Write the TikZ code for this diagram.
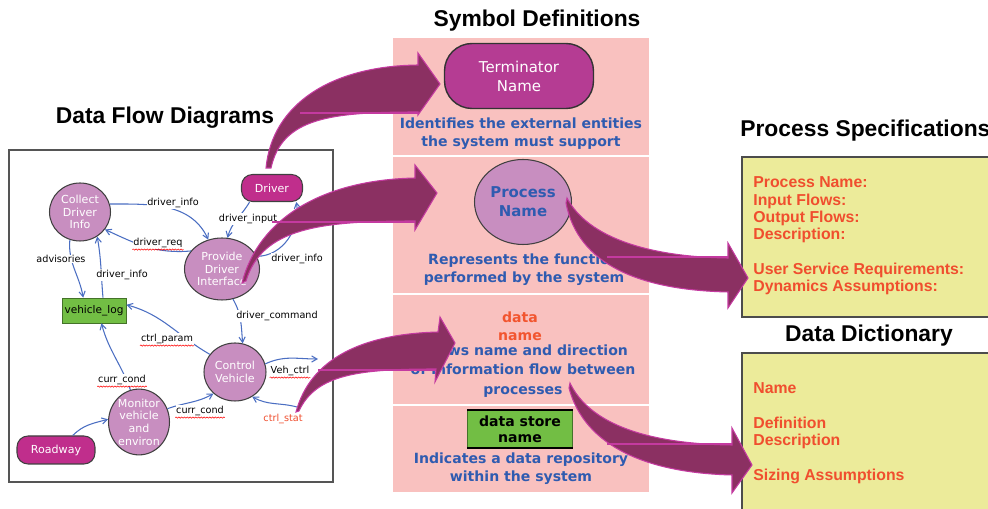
\documentclass[tikz,border=0pt]{standalone}
\usepackage{fontspec}
\setmainfont{DejaVu Sans}
\newfontfamily\lib{Liberation Sans}
\usetikzlibrary{arrows.meta,decorations.pathmorphing,shapes.geometric}
\definecolor{pinkbg}{HTML}{F9C1BF}
\definecolor{yellowbg}{HTML}{ECEB9A}
\definecolor{termfill}{HTML}{B53C93}
\definecolor{drvfill}{HTML}{C02E8C}
\definecolor{procfill}{HTML}{C88EC0}
\definecolor{storegreen}{HTML}{72BE44}
\definecolor{bluetext}{HTML}{2F5BB0}
\definecolor{namered}{HTML}{F2552F}
\definecolor{specred}{HTML}{F04E2E}
\definecolor{flowblue}{HTML}{4A6EC2}
\definecolor{arrowfill}{HTML}{8B3062}
\definecolor{arrowedge}{HTML}{C43AA0}
\definecolor{framegray}{HTML}{555555}
\begin{document}
\begin{tikzpicture}[x=0.02cm,y=-0.02cm,
  title/.style={font=\lib\bfseries\fontsize{13}{15}\selectfont},
  desc/.style={text=bluetext,font=\bfseries\fontsize{8}{10.2}\selectfont,align=center},
  spec/.style={text=specred,font=\lib\bfseries\fontsize{9}{9.9}\selectfont,align=left,anchor=west,inner sep=0},
  proc/.style={ellipse,draw=black!75,line width=0.6pt,fill=procfill,inner sep=0,align=center},
  dproc/.style={proc,text=white,font=\fontsize{6.3}{7.2}\selectfont},
  dterm/.style={draw=black!75,line width=0.6pt,fill=drvfill,rounded corners=0.22cm,text=white,font=\fontsize{6.3}{7.2}\selectfont,inner sep=0},
  flow/.style={draw=flowblue,line width=0.6pt,-{Straight Barb[angle=60:3.5pt]}},
  flbl/.style={font=\fontsize{5.5}{6}\selectfont,fill=white,inner sep=0.4pt},
  squig/.style={draw=red,line width=0.3pt,decorate,decoration={snake,amplitude=0.35pt,segment length=1.6pt}},
  bigarrow/.style={fill=arrowfill,draw=arrowedge,line width=0.6pt,line join=miter},
  foldline/.style={draw=arrowedge,line width=0.6pt}]
\clip (0,0) rectangle (988,509);
\fill[white] (0,0) rectangle (988,509);

% ---------- titles ----------
\node[title] (tdfd) at (165,118) {Data Flow Diagrams};
\node[title] (tsym) at (537,21) {Symbol Definitions};
\node[title,anchor=west,inner sep=0] (tps) at (740,131) {Process Specifications};
\node[title] (tdd) at (869,336) {Data Dictionary};

% ---------- symbol panel ----------
\fill[pinkbg] (393,38) rectangle (649,492);
\draw[white,line width=1.1pt] (393,156) -- (649,156) (393,294) -- (649,294) (393,405) -- (649,405);

\node[draw=black!80,line width=0.8pt,fill=termfill,rounded corners=0.55cm,minimum width=2.98cm,minimum height=1.3cm,
      text=white,align=center,font=\fontsize{8.5}{10.8}\selectfont] (termsym) at (519,76) {Terminator\\Name};
\node[desc] (d1) at (521,134) {Identifies the external entities\\the system must support};

\node[proc,minimum width=1.94cm,minimum height=1.7cm,text=bluetext,font=\bfseries\fontsize{8.5}{10.8}\selectfont] (procsym) at (523,202) {Process\\Name};
\node[desc] (d2) at (524,270) {Represents the function\\performed by the system};

\node[desc,text=namered] (dname) at (520,326) {data\\name};
\node[desc,font=\bfseries\fontsize{8}{11}\selectfont] (d3) at (523,371) {Shows name and direction\\of information flow between\\processes};

\node[fill=storegreen,draw=storegreen!60!black,line width=0.3pt,minimum width=2.1cm,minimum height=0.74cm,inner sep=0,align=center,
      font=\bfseries\fontsize{8}{9}\selectfont] (storesym) at (520,429) {data store\\name};
\draw[line width=1pt] (storesym.north west) -- (storesym.north east) (storesym.south west) -- (storesym.south east);
\node[desc] (d4) at (521,469) {Indicates a data repository\\within the system};

% ---------- right boxes ----------
\draw[fill=yellowbg,draw=black!70,line width=1pt] (742,157) rectangle (1010,317);
\node[spec] (spectext) at (753,236) {Process Name:\\Input Flows:\\Output Flows:\\Description:\\[9.9pt]User Service Requirements:\\Dynamics Assumptions:};
\draw[fill=yellowbg,draw=black!70,line width=1pt] (742,353) rectangle (1010,530);
\node[spec] (ddtext) at (753,433) {Name\\[9.9pt]Definition\\Description\\[9.9pt]Sizing Assumptions};

% ---------- DFD ----------
\draw[framegray,line width=0.9pt] (9,150) rectangle (333,482);

\node[dproc,minimum width=1.22cm,minimum height=1.16cm] (collect) at (80,212) {Collect\\Driver\\Info};
\node[dterm,minimum width=1.22cm,minimum height=0.54cm] (driver) at (272,188) {Driver};
\node[dproc,minimum width=1.5cm,minimum height=1.24cm] (provide) at (222,269) {Provide\\Driver\\Interface};
\node[fill=storegreen,draw=storegreen!60!black,line width=0.4pt,minimum width=1.28cm,minimum height=0.5cm,inner sep=0,
      font=\fontsize{6}{7}\selectfont] (vlog) at (94,310.5) {vehicle\_log};
\node[dproc,minimum width=1.24cm,minimum height=1.16cm] (control) at (235,372) {Control\\Vehicle};
\node[dproc,minimum width=1.22cm,minimum height=1.2cm] (monitor) at (139,422) {Monitor\\vehicle\\and\\environ};
\node[dterm,minimum width=1.56cm,minimum height=0.56cm] (roadway) at (56,450) {Roadway};
\coordinate (vout) at (318,359);
\coordinate (sin) at (297,407);

\draw[flow] (collect.15) to[out=0,in=115] (provide.115);
\draw[flow] (provide.150) to[out=185,in=-25] (collect.-35);
\draw[flow] (driver.212) to[out=240,in=75] (provide.80);
\draw[flow] (provide.20) to[out=0,in=-80] (driver.-30);
\draw[flow] (collect.250) to[out=265,in=100] (vlog.130);
\draw[flow] (vlog.55) to[out=95,in=-80] (collect.-55);
\draw[flow] (provide.-70) to[out=-60,in=95] (control.75);
\draw[flow] (control.145) to[out=150,in=-15] (vlog.10);
\draw[flow] (monitor.105) to[out=110,in=-75] (vlog.-60);
\draw[flow] (monitor.25) to[out=20,in=-150] (control.-135);
\draw[flow] (roadway.41) to[out=45,in=195] (monitor.175);
\draw[flow] (control.15) to[out=25,in=180] (vout);
\draw[flow] (sin) to[out=165,in=-30] (control.-55);

\node[flbl] (l1) at (173,203) {driver\_info};
\node[flbl] (l2) at (158,243) {driver\_req};
\node[flbl] (l3) at (248,219) {driver\_input};
\node[flbl] (l4) at (297,259) {driver\_info};
\node[flbl] (l5) at (61,259) {advisories};
\node[flbl] (l6) at (122,275) {driver\_info};
\node[flbl] (l7) at (277,316) {driver\_command};
\node[flbl] (l8) at (167,339) {ctrl\_param};
\node[flbl] (l9) at (122,380) {curr\_cond};
\node[flbl] (l10) at (200,411) {curr\_cond};
\node[flbl] (l11) at (290,371) {Veh\_ctrl};
\node[flbl,text=specred,fill=none] (l12) at (283,419) {ctrl\_stat};
\foreach \l in {l2,l8,l9,l10,l11}{
  \draw[squig] ([yshift=-0.4pt]\l.south west) -- ([yshift=-0.4pt]\l.south east);
}

% ---------- big curved arrows ----------
\draw[bigarrow] (266,168) .. controls (272,105) and (330,66) .. (418,65)
   -- (418,53) -- (440,84) -- (418,115) -- (418,112)
   .. controls (330,112) and (282,118) .. (271,168) -- cycle;
\draw[foldline] (300,113) -- (418,113);

\draw[bigarrow] (242,283) .. controls (258,220) and (320,180) .. (415,178)
   -- (415,165) -- (437,193) -- (415,230) -- (415,221)
   .. controls (320,221) and (262,228) .. (246,281) -- cycle;
\draw[foldline] (272,222) -- (415,222);

\draw[bigarrow] (296,412) .. controls (310,360) and (360,334) .. (438,332)
   -- (440,317) -- (455,343) -- (435,382) -- (436,369)
   .. controls (360,369) and (316,374) .. (299,411) -- cycle;
\draw[foldline] (318,370) -- (436,370);

\draw[bigarrow] (567,198) .. controls (588,238) and (650,257) .. (728,258)
   -- (728,243) -- (748,278) -- (728,308) -- (728,292)
   .. controls (640,290) and (578,265) .. (566,203) -- cycle;
\draw[foldline] (607,257) -- (728,257);

\draw[bigarrow] (570,383) .. controls (590,425) and (650,444) .. (732,445)
   -- (732,428) -- (752,465) -- (732,493) -- (732,475)
   .. controls (650,473) and (585,448) .. (569,388) -- cycle;
\draw[foldline] (607,444) -- (732,444);
\end{tikzpicture}
\end{document}
